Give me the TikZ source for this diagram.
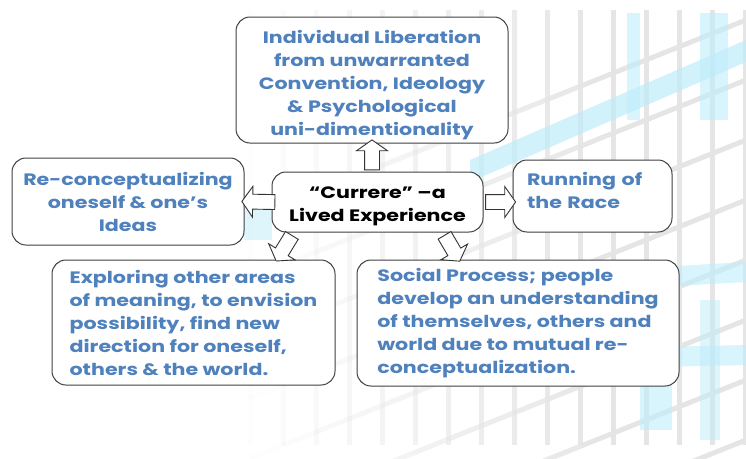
\documentclass[tikz,border=0pt]{standalone}
\usepackage{fontspec}
\setmainfont{Poppins}[FakeStretch=1.25]
\usetikzlibrary{shapes.arrows,positioning}
\definecolor{txtblue}{RGB}{79,129,189}
\definecolor{latblue}{RGB}{190,236,250}
\tikzset{%
  mybox/.style={draw=black!75, fill=white, rounded corners=14pt, line width=1pt,
    font=\bfseries\fontsize{16.5}{23}\selectfont, text=txtblue, inner sep=0pt},
  myarrow/.style={single arrow, draw=black!80, fill=white, line width=0.9pt,
    inner xsep=0pt, inner ysep=7pt, single arrow head extend=8pt,
    single arrow tip angle=110, minimum height=30pt,
    sloped, allow upside down}
}
\begin{document}
\begin{tikzpicture}[x=1pt,y=-1pt]
  \useasboundingbox (0,0) rectangle (746,458);
  % lattice backdrop, fading out to the left
  \foreach \j in {0,...,7} {
    \foreach \i in {0,...,14} {
      \pgfmathsetmacro{\xa}{250+33*\i}
      \pgfmathsetmacro{\op}{min(1,max(0,(\xa-220)/380))}
      \draw[black!10, line width=5pt, opacity=\op]
        (\xa,{20+60*\j+0.4*(746-\xa)}) -- (\xa+33,{20+60*\j+0.4*(713-\xa)});
    }
  }
  \foreach \i in {0,...,15} {
    \pgfmathsetmacro{\xa}{248+33*\i}
    \pgfmathsetmacro{\op}{min(1,max(0,(\xa-220)/380))}
    \fill[black!10, opacity=\op] (\xa,10) rectangle (\xa+5,445);
  }
  \fill[latblue, opacity=0.7] (470,182) -- (746,62) -- (746,40) -- (470,160) -- cycle;
  \fill[latblue, opacity=0.6] (520,275) -- (746,262) -- (746,282) -- (520,295) -- cycle;
  \fill[latblue, opacity=0.6] (520,350) -- (746,345) -- (746,365) -- (520,370) -- cycle;
  \fill[latblue, opacity=0.6] (627,13) rectangle (640,120);
  \fill[latblue, opacity=0.6] (700,13) rectangle (728,120);
  \fill[latblue, opacity=0.6] (640,262) rectangle (672,430);
  \fill[latblue, opacity=0.5] (700,300) rectangle (720,440);
  \fill[latblue, opacity=0.5] (244,205) rectangle (272,240);
  % boxes
  \node[mybox, minimum width=272pt, minimum height=126pt, align=center] (liberation) at (372,80)
    {\rule{0pt}{24pt}Individual Liberation\\from unwarranted\\Convention, Ideology\\\& Psychological\\uni-dimentionality};
  \node[mybox, minimum width=232pt, minimum height=87pt, align=center] (reconcept) at (128,201.5)
    {Re-conceptualizing\\oneself \& one’s\\Ideas};
  \node[mybox, text=black, minimum width=211pt, minimum height=60pt, align=center] (currere) at (377.5,202)
    {\rule{0pt}{20pt}“Currere” –a\\Lived Experience};
  \node[mybox, minimum height=72pt, inner xsep=14pt, text width=131pt, align=left] (race) at (592.5,196)
    {Running of\\the Race\\[-12pt]~};
  \node[mybox, minimum width=283pt, minimum height=125pt, align=left] (exploring) at (193.5,322.5)
    {Exploring other areas\\of meaning, to envision\\possibility, find new\\direction for oneself,\\others \& the world.};
  \node[mybox, minimum width=322pt, minimum height=126pt, align=left] (social) at (518,323)
    {Social Process; people\\develop an understanding\\of themselves, others and\\world due to mutual re-\\conceptualization.};
  % hollow block arrows
  \path (liberation.south |- currere.north) -- (liberation.south) node[myarrow, midway] {};
  \path (currere.west) -- (reconcept.east) node[myarrow, midway, minimum height=33pt, xshift=-3pt] {};
  \path (currere.east) -- (currere.east -| race.west) node[myarrow, midway] {};
  \path (currere.-160) -- (exploring.37) node[myarrow, midway, minimum height=30pt] {};
  \path (currere.-25) -- (social.133) node[myarrow, midway, minimum height=30pt] {};
\end{tikzpicture}
\end{document}
